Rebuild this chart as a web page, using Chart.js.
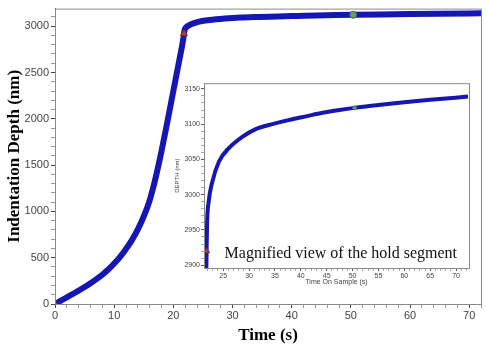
<!DOCTYPE html>
<html>
<head>
<meta charset="utf-8">
<script src="https://cdn.jsdelivr.net/npm/chart.js@4.4.0/dist/chart.umd.min.js"></script>
<style>
  body { margin: 0; background: #fff; }
  #wrap { position: relative; width: 486px; height: 350px; }
  #mainChart { position: absolute; left: 0; top: 0; }
  #insetChart { position: absolute; left: 170px; top: 78px; }
</style>
</head>
<body>
<div id="wrap">
  <canvas id="mainChart" width="486" height="350"></canvas>
  <canvas id="insetChart" width="305" height="208"></canvas>
</div>
<script>
// Данные: нагружение (loading) и выдержка (hold)
const loadTime  = [0, 1, 2, 3, 4, 5, 6, 7, 8, 9, 10, 11, 12, 13, 14, 15, 16, 17, 18, 19, 20, 21, 21.7];
const loadDepth = [0, 36, 72, 108, 145, 183, 224, 268, 316, 372, 437, 510, 595, 690, 805, 945, 1120, 1360, 1650, 1970, 2300, 2630, 2870];

const holdTime  = [21.8, 21.9, 22.2, 22.9, 24.2, 26.1, 28.7, 31.3, 34.5, 37.8, 41, 44.2, 47.5, 50.4, 55, 60, 65, 72.3];
const holdDepth = [2920, 2960, 2990, 3018, 3047, 3066, 3082, 3093, 3100, 3106, 3111, 3116, 3120, 3123, 3127, 3131, 3134.5, 3139];

// Маркеры: начало нагрузки, начало выдержки, середина выдержки
const startPoint = { t: 0, d: 0 };
const holdStart  = { t: 21.8, d: 2920 };
const holdMid    = { t: 50.4, d: 3123 };

// Подписи делений
const mainLabelsX  = [0, 10, 20, 30, 40, 50, 60, 70];
const mainLabelsY  = [0, 500, 1000, 1500, 2000, 2500, 3000];
const insetLabelsX = [25, 30, 35, 40, 45, 50, 55, 60, 65, 70];
const insetLabelsY = [2900, 2950, 3000, 3050, 3100, 3150];

const blue = '#1616b4';

const toXY = (xs, ys) => xs.map((x, i) => ({ x: x, y: ys[i] }));
const fullCurve = toXY(loadTime, loadDepth).concat(toXY(holdTime, holdDepth));
const holdCurve = [{ x: loadTime[loadTime.length - 1], y: loadDepth[loadDepth.length - 1] }].concat(toXY(holdTime, holdDepth));

// Деления (основные + мелкие)
const range = (from, to, step) => {
    const out = [];
    for (let v = from; v <= to + 1e-9; v += step) out.push(Math.round(v * 100) / 100);
    return out;
};
const setTicks = (values) => (scale) => { scale.ticks = values.map(v => ({ value: v })); };

// Рамка вокруг области графика
const framePlugin = {
    id: 'frame',
    afterDraw(chart) {
        const a = chart.chartArea;
        const c = chart.ctx;
        c.save();
        c.strokeStyle = '#8a8a8a';
        c.lineWidth = 1;
        c.strokeRect(a.left + 0.5, a.top + 0.5, a.right - a.left, a.bottom - a.top);
        c.restore();
    }
};

const captionPlugin = {
    id: 'caption',
    afterDraw(chart) {
        const a = chart.chartArea;
        const c = chart.ctx;
        c.save();
        c.font = '16px "Liberation Serif", "Times New Roman", serif';
        c.fillStyle = '#111';
        c.textAlign = 'right';
        c.textBaseline = 'alphabetic';
        c.fillText('Magnified view of the hold segment', a.right - 12, a.bottom - 10);
        c.restore();
    }
};

Chart.defaults.font.family = '"Liberation Sans", Arial, sans-serif';
Chart.defaults.color = '#444';

// Основной график
const mainChart = new Chart(document.getElementById('mainChart'), {
    type: 'line',
    data: {
        datasets: [
            {
                data: [{ x: startPoint.t, y: startPoint.d }],
                showLine: false,
                pointStyle: 'triangle',
                pointRadius: 4,
                backgroundColor: '#a83a3a',
                borderColor: '#7a2a2a',
                borderWidth: 1,
                order: 0
            },
            {
                data: [{ x: holdStart.t, y: holdStart.d }],
                showLine: false,
                pointStyle: 'triangle',
                pointRadius: 4,
                backgroundColor: '#b03a3a',
                borderColor: '#7a2a2a',
                borderWidth: 1,
                order: 0
            },
            {
                data: [{ x: holdMid.t, y: holdMid.d }],
                showLine: false,
                pointRadius: 3.5,
                backgroundColor: '#6f9a6f',
                borderColor: '#3f5f4f',
                borderWidth: 1,
                order: 0
            },
            {
                data: fullCurve,
                borderColor: blue,
                borderWidth: 6,
                pointRadius: 0,
                cubicInterpolationMode: 'monotone',
                fill: false,
                order: 1
            }
        ]
    },
    options: {
        responsive: false,
        animation: false,
        devicePixelRatio: 1,
        layout: { padding: { top: 5, right: 5, left: 0, bottom: 0 } },
        plugins: { legend: { display: false }, tooltip: { enabled: false } },
        scales: {
            x: {
                type: 'linear',
                min: 0,
                max: 72,
                afterFit: (s) => { s.height = 46; },
                afterBuildTicks: setTicks(range(0, 72, 2)),
                border: { color: '#555', width: 1 },
                grid: {
                    drawOnChartArea: false,
                    tickLength: 4,
                    tickColor: (ctx) => (ctx.tick && mainLabelsX.includes(ctx.tick.value)) ? '#444' : '#999'
                },
                ticks: {
                    autoSkip: false,
                    maxRotation: 0,
                    padding: 1,
                    font: { size: 11 },
                    callback: (v) => mainLabelsX.includes(v) ? v : ''
                },
                title: {
                    display: true,
                    text: 'Time (s)',
                    color: '#000',
                    padding: 4,
                    font: { family: '"Liberation Serif", "Times New Roman", serif', size: 17, weight: 'bold' }
                }
            },
            y: {
                type: 'linear',
                min: 0,
                max: 3190,
                afterFit: (s) => { s.width = 55; },
                afterBuildTicks: setTicks(range(0, 3100, 100)),
                border: { color: '#555', width: 1 },
                grid: {
                    drawOnChartArea: false,
                    tickLength: 4,
                    tickColor: (ctx) => (ctx.tick && mainLabelsY.includes(ctx.tick.value)) ? '#444' : '#999'
                },
                ticks: {
                    autoSkip: false,
                    padding: 2,
                    font: { size: 11 },
                    callback: (v) => mainLabelsY.includes(v) ? v : ''
                },
                title: {
                    display: true,
                    text: 'Indentation Depth (nm)',
                    color: '#000',
                    padding: 4,
                    font: { family: '"Liberation Serif", "Times New Roman", serif', size: 17, weight: 'bold' }
                }
            }
        }
    },
    plugins: [framePlugin]
});

// Вставка: увеличенный участок выдержки
const insetChart = new Chart(document.getElementById('insetChart'), {
    type: 'line',
    data: {
        datasets: [
            {
                data: [{ x: holdStart.t, y: holdStart.d }],
                showLine: false,
                pointStyle: 'triangle',
                pointRadius: 3.5,
                backgroundColor: '#b03a3a',
                borderColor: '#7a2a2a',
                borderWidth: 1,
                order: 0
            },
            {
                data: [{ x: holdMid.t, y: holdMid.d }],
                showLine: false,
                pointRadius: 2,
                backgroundColor: '#7a9a8a',
                borderColor: '#4a6a5a',
                borderWidth: 1,
                order: 0
            },
            {
                data: holdCurve,
                borderColor: blue,
                borderWidth: 4,
                pointRadius: 0,
                cubicInterpolationMode: 'monotone',
                fill: false,
                order: 1
            }
        ]
    },
    options: {
        responsive: false,
        animation: false,
        devicePixelRatio: 1,
        layout: { padding: { top: 5, right: 6, left: 0, bottom: 0 } },
        plugins: { legend: { display: false }, tooltip: { enabled: false } },
        scales: {
            x: {
                type: 'linear',
                min: 21.3,
                max: 72.5,
                afterFit: (s) => { s.height = 18; },
                afterBuildTicks: setTicks(range(22, 72, 1)),
                border: { color: '#666', width: 1 },
                grid: {
                    drawOnChartArea: false,
                    tickLength: 3,
                    tickColor: (ctx) => (ctx.tick && insetLabelsX.includes(ctx.tick.value)) ? '#555' : '#aaa'
                },
                ticks: {
                    autoSkip: false,
                    maxRotation: 0,
                    padding: 1,
                    font: { size: 7 },
                    callback: (v) => insetLabelsX.includes(v) ? v : ''
                },
                title: {
                    display: true,
                    text: 'Time On Sample (s)',
                    color: '#444',
                    padding: 0,
                    font: { size: 7 }
                }
            },
            y: {
                type: 'linear',
                min: 2896,
                max: 3158,
                afterFit: (s) => { s.width = 34; },
                afterBuildTicks: setTicks(range(2900, 3150, 10)),
                border: { color: '#666', width: 1 },
                grid: {
                    drawOnChartArea: false,
                    tickLength: 3,
                    tickColor: (ctx) => (ctx.tick && insetLabelsY.includes(ctx.tick.value)) ? '#555' : '#aaa'
                },
                ticks: {
                    autoSkip: false,
                    padding: 1,
                    font: { size: 7 },
                    callback: (v) => insetLabelsY.includes(v) ? v : ''
                },
                title: {
                    display: true,
                    text: 'DEPTH (nm)',
                    color: '#444',
                    padding: 4,
                    font: { size: 6 }
                }
            }
        }
    },
    plugins: [framePlugin, captionPlugin]
});
</script>
</body>
</html>
